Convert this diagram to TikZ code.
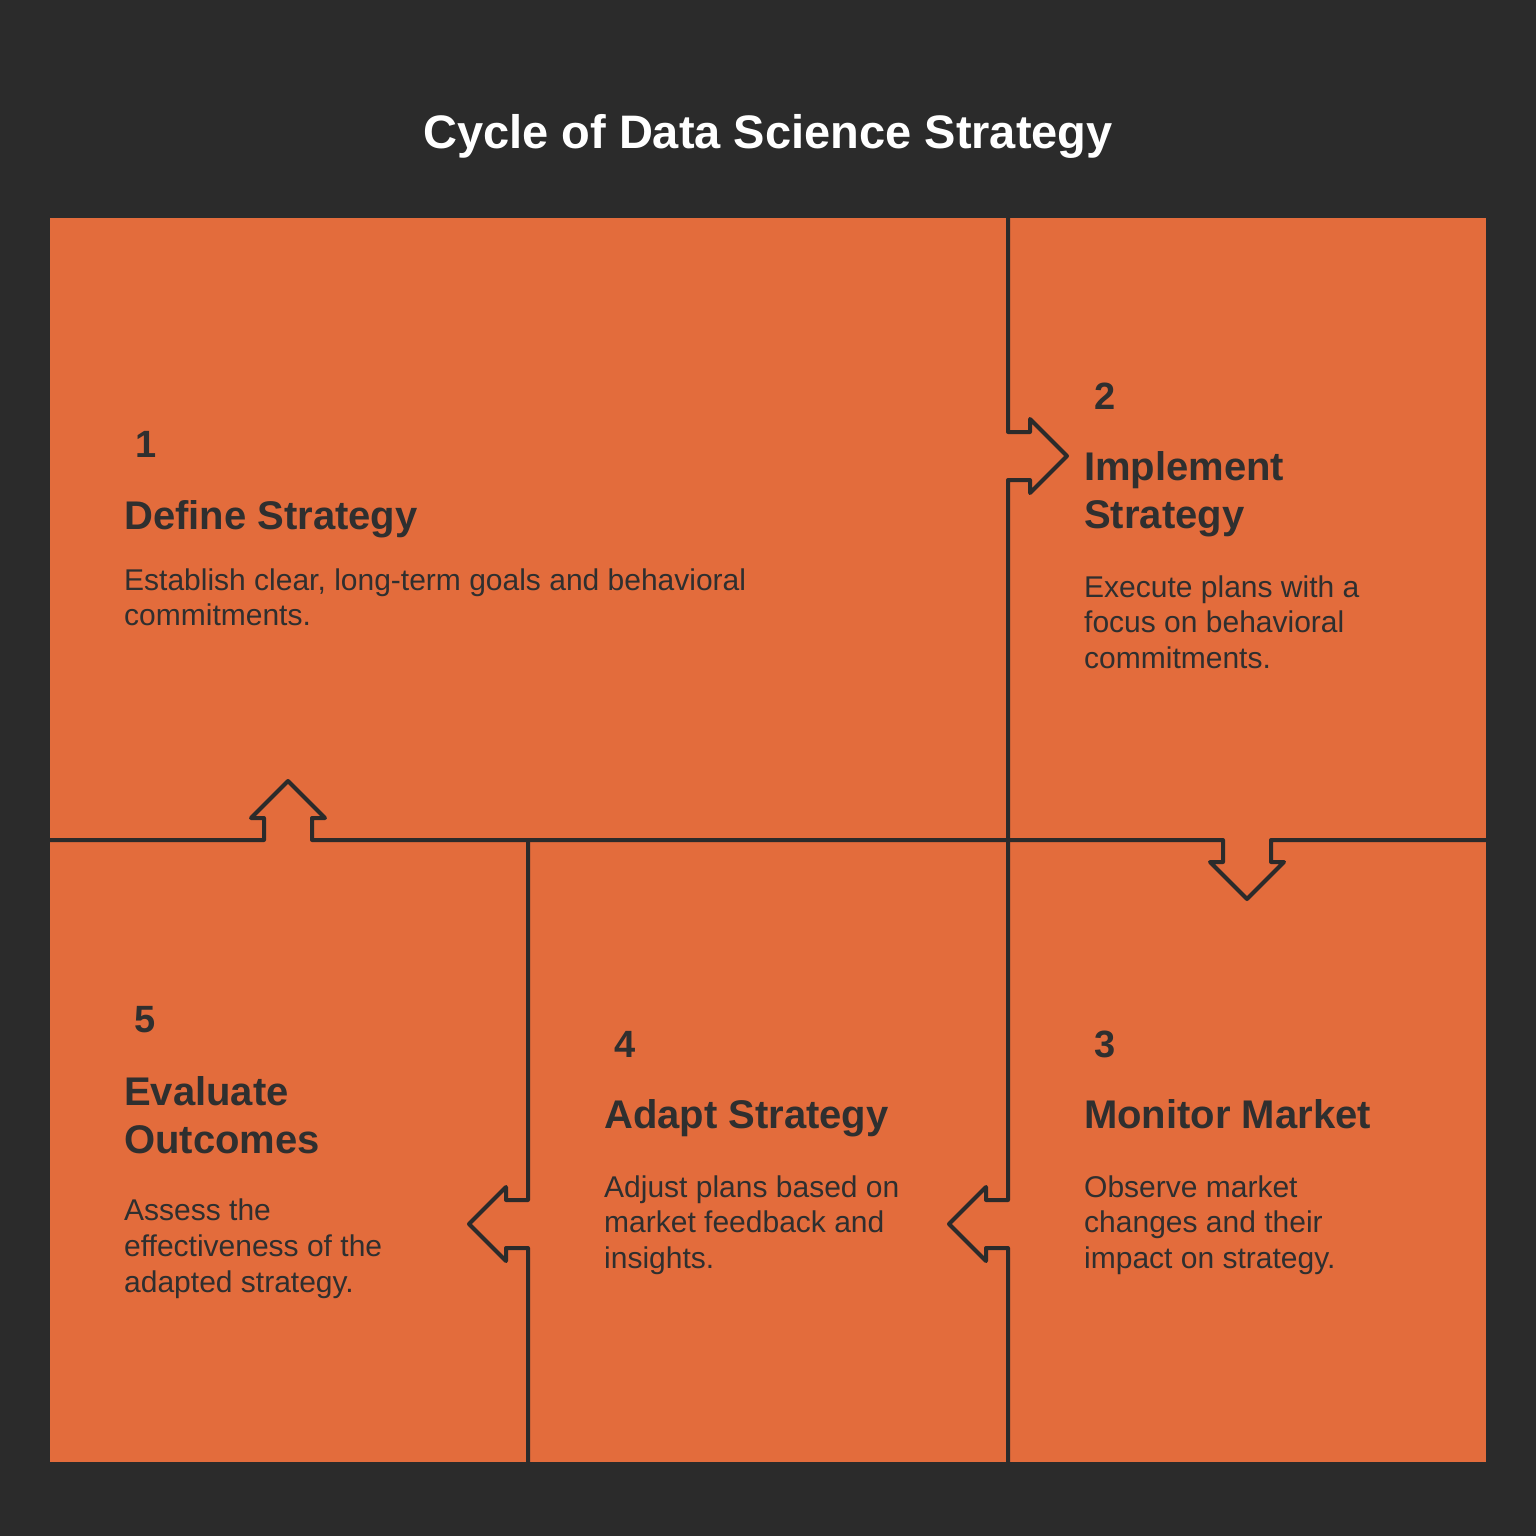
\documentclass[tikz,border=0pt]{standalone}
\usepackage{fontspec}
\setmainfont{Liberation Sans}
\definecolor{bg}{HTML}{2B2B2B}
\definecolor{org}{HTML}{E36C3C}
\definecolor{ink}{HTML}{2F2F2F}
\begin{document}
\begin{tikzpicture}[x=1pt,y=-1pt,
  ttl/.style={anchor=base,inner sep=0pt,text=white,font=\fontsize{47}{56}\selectfont\bfseries},
  num/.style={anchor=base west,inner sep=0pt,text=ink,font=\fontsize{38}{46}\selectfont\bfseries},
  head/.style={anchor=base west,inner sep=0pt,text=ink,font=\fontsize{40}{48}\selectfont\bfseries},
  body/.style={anchor=base west,inner sep=0pt,text=ink,font=\fontsize{30}{36}\selectfont},
  cut/.style={draw=bg,line width=4pt,line join=round}]
% background and frame
\fill[bg] (0,0) rectangle (1536,1536);
\useasboundingbox (0,0) rectangle (1536,1536);
\fill[org] (50,218) rectangle (1486,1462);
% title
\node[ttl] (title) at (768,148) {Cycle of Data Science Strategy};
% cut lines with arrow notches
\draw[cut] (1008,218) -- (1008,432) -- (1030,432) -- (1030,419) -- (1067,456)
  -- (1030,493) -- (1030,480) -- (1008,480) -- (1008,1200) -- (986,1200)
  -- (986,1187) -- (949,1224) -- (986,1261) -- (986,1248) -- (1008,1248) -- (1008,1462);
\draw[cut] (50,840) -- (264,840) -- (264,818) -- (251,818) -- (288,781) -- (325,818)
  -- (312,818) -- (312,840) -- (1223,840) -- (1223,862) -- (1210,862) -- (1247,899)
  -- (1284,862) -- (1271,862) -- (1271,840) -- (1486,840);
\draw[cut] (528,840) -- (528,1200) -- (506,1200) -- (506,1187) -- (469,1224)
  -- (506,1261) -- (506,1248) -- (528,1248) -- (528,1462);
% cell 1
\node[num] (n1) at (135,457) {1};
\node[head] (h1) at (124,529) {Define Strategy};
\node[body] (b1a) at (124,590) {Establish clear, long-term goals and behavioral};
\node[body] (b1b) at (124,625) {commitments.};
% cell 2
\node[num] (n2) at (1094,409) {2};
\node[head] (h2a) at (1084,480) {Implement};
\node[head] (h2b) at (1084,528) {Strategy};
\node[body] (b2a) at (1084,597) {Execute plans with a};
\node[body] (b2b) at (1084,632) {focus on behavioral};
\node[body] (b2c) at (1084,668) {commitments.};
% cell 3
\node[num] (n3) at (1094,1057) {3};
\node[head] (h3) at (1084,1128) {Monitor Market};
\node[body] (b3a) at (1084,1197) {Observe market};
\node[body] (b3b) at (1084,1232) {changes and their};
\node[body] (b3c) at (1084,1268) {impact on strategy.};
% cell 4
\node[num] (n4) at (614,1057) {4};
\node[head] (h4) at (604,1128) {Adapt Strategy};
\node[body] (b4a) at (604,1197) {Adjust plans based on};
\node[body] (b4b) at (604,1232) {market feedback and};
\node[body] (b4c) at (604,1268) {insights.};
% cell 5
\node[num] (n5) at (134,1032) {5};
\node[head] (h5a) at (124,1105) {Evaluate};
\node[head] (h5b) at (124,1153) {Outcomes};
\node[body] (b5a) at (124,1220) {Assess the};
\node[body] (b5b) at (124,1256) {effectiveness of the};
\node[body] (b5c) at (124,1292) {adapted strategy.};
\end{tikzpicture}
\end{document}
